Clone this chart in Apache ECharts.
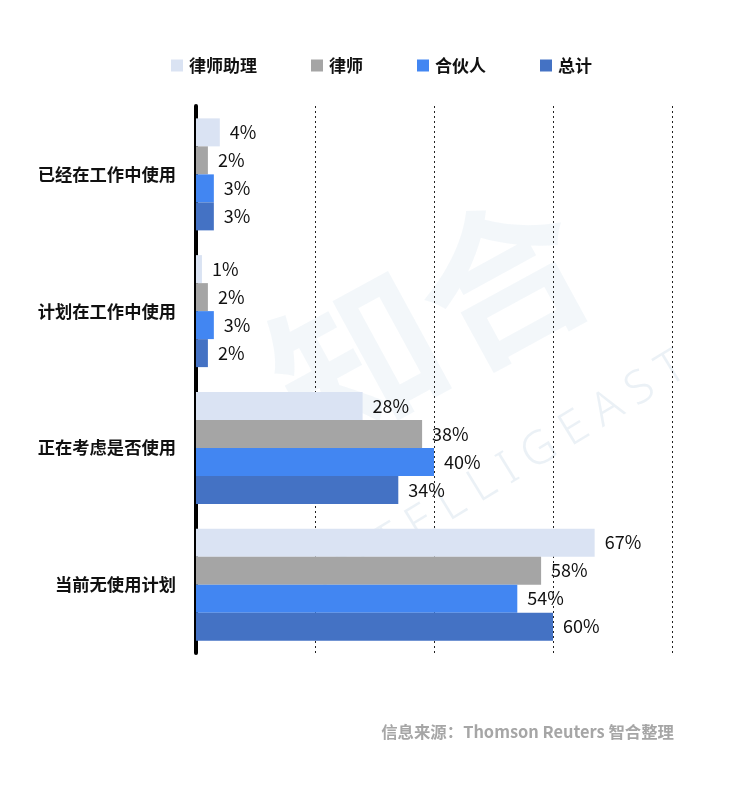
<!DOCTYPE html>
<html>
<head>
<meta charset="utf-8">
<script src="https://cdn.jsdelivr.net/npm/echarts@6/dist/echarts.min.js"></script>
<style>html,body{margin:0;padding:0;background:#fff}#c{width:741px;height:785px}</style>
</head>
<body>
<div id="c"></div>
<script>
var categories = ['已经在工作中使用', '计划在工作中使用', '正在考虑是否使用', '当前无使用计划'];
var seriesNames = ['律师助理', '律师', '合伙人', '总计'];
var paralegal = [4, 1, 28, 67];
var lawyer = [2, 2, 38, 58];
var partner = [3, 3, 40, 54];
var total = [3, 2, 34, 60];
var xTicks = [0, 20, 40, 60, 80];
var sourceText = '信息来源：Thomson Reuters 智合整理';

var colors = ['#dae3f3', '#a5a5a5', '#4286f2', '#4472c4'];
var font = '"Noto Sans CJK SC", "Noto Sans", sans-serif';
var dataSets = [paralegal, lawyer, partner, total];

var chart = echarts.init(document.getElementById('c'), null, {renderer: 'canvas'});
var series = dataSets.map(function (d, i) {
  return {
    name: seriesNames[i],
    type: 'bar',
    data: d,
    barWidth: 28,
    barGap: '0%',
    itemStyle: {color: colors[i]},
    label: {
      show: true,
      position: 'right',
      distance: 10,
      formatter: '{c}%',
      color: '#111',
      fontSize: 18,
      fontFamily: font
    },
    z: 3
  };
});

chart.setOption({
  animation: false,
  backgroundColor: '#fff',
  color: colors,
  legend: {
    data: seriesNames,
    left: 166,
    top: 52,
    itemWidth: 12,
    itemHeight: 12,
    itemGap: 54,
    icon: 'rect',
    textStyle: {fontSize: 17, fontWeight: 'bold', color: '#111', fontFamily: font, padding: [0, 0, 0, 1]}
  },
  grid: {left: 196, right: 69, top: 106, bottom: 132, containLabel: false},
  xAxis: {
    type: 'value',
    min: xTicks[0],
    max: xTicks[xTicks.length - 1],
    interval: 20,
    axisLine: {show: false},
    axisTick: {show: false},
    axisLabel: {show: false},
    splitLine: {show: true, lineStyle: {color: '#222', type: [2, 3], width: 1}}
  },
  yAxis: {
    type: 'category',
    data: categories,
    inverse: true,
    axisLine: {show: true, lineStyle: {color: '#000', width: 4}},
    axisTick: {show: false},
    axisLabel: {fontSize: 17.3, fontWeight: 'bold', color: '#111', fontFamily: font, margin: 20}
  },
  graphic: [
    {
      type: 'text', z: 0, silent: true,
      x: 430, y: 320, rotation: 0.5,
      style: {text: '知合', font: 'bold 165px "Noto Sans CJK SC"', fill: 'rgba(225,235,243,0.4)', align: 'center', verticalAlign: 'middle'}
    },
    {
      type: 'text', z: 0, silent: true,
      x: 500, y: 475, rotation: 0.55,
      style: {text: 'I N T E L L I G E A S T', font: '300 46px "Noto Sans"', fill: 'rgba(215,228,238,0.5)', align: 'center', verticalAlign: 'middle'}
    },
    {
      type: 'text', silent: true,
      right: 67, top: 724,
      style: {text: sourceText, font: 'bold 16.4px "Noto Sans CJK SC"', fill: '#a6a6a6'}
    }
  ],
  series: series
});
</script>
</body>
</html>
